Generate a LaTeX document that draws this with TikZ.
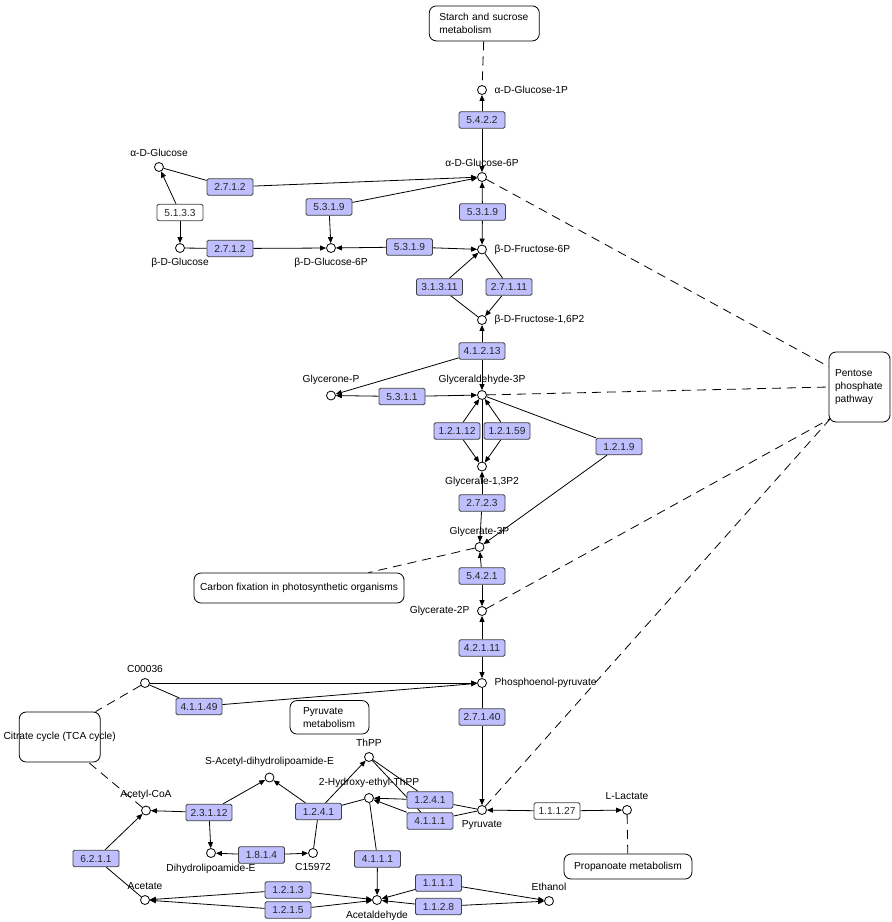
\documentclass[tikz,border=0pt]{standalone}
\usepackage{fontspec}
\setmainfont{Liberation Sans}
\usetikzlibrary{arrows.meta,backgrounds}
\definecolor{enzblue}{RGB}{191,191,255}

\begin{document}
\begin{tikzpicture}[x=1pt, y=-1pt, font=\fontsize{10.2}{13.3}\selectfont, label distance=1.5pt,
  cpd/.style={circle, draw, fill=white, line width=0.8pt, minimum size=9pt, inner sep=0pt},
  enz/.style={draw=black!75, fill=enzblue, rounded corners=1.5pt, line width=0.8pt, minimum width=46pt, minimum height=16.5pt, inner sep=0pt, text=black!85},
  enzw/.style={enz, fill=white},
  map/.style={draw, rounded corners=7pt, line width=0.8pt, align=left, inner sep=0pt},
  rxn/.style={line width=0.8pt},
  arr/.style={line width=0.8pt, -{Triangle[length=6pt,width=5pt]}},
  link/.style={line width=0.8pt, dash pattern=on 9pt off 6pt},
  every label/.style={inner sep=4pt}]
  \useasboundingbox (0,0) rectangle (892,922);

  \node[map, text width=90pt, inner xsep=10pt, minimum height=35pt] (starch) at (484.3,23.4) {Starch and sucrose\\metabolism};
  \node[map, text width=49pt, inner xsep=6pt, minimum height=70pt] (pent) at (859.5,387) {Pentose\\phosphate\\pathway};
  \node[map, minimum width=210pt, minimum height=30pt] (carbon) at (299,588) {Carbon fixation in photosynthetic organisms};
  \node[map, minimum width=81pt, minimum height=50pt] (tca) at (59.7,737) {\makebox[0pt]{Citrate cycle (TCA cycle)}};
  \node[map, text width=53pt, inner xsep=13pt, minimum height=33.5pt] (pyrmet) at (329.5,717.3) {Pyruvate\\metabolism};
  \node[map, minimum width=128pt, minimum height=25pt] (prop) at (628,866.5) {Propanoate metabolism};

  \node[cpd, label={[label distance=3.5pt]right:α-D-Glucose-1P}] (aG1P) at (482,90) {};
  \node[cpd, label={above:α-D-Glucose-6P}] (aG6P) at (482,177) {};
  \node[cpd, label={above:α-D-Glucose}] (aGlc) at (159,167) {};
  \node[cpd, label={below:β-D-Glucose}] (bGlc) at (180,248) {};
  \node[cpd, label={below:β-D-Glucose-6P}] (bG6P) at (331,248) {};
  \node[cpd, label={[label distance=3.5pt]right:β-D-Fructose-6P}] (bF6P) at (482,249.5) {};
  \node[cpd, label={[label distance=3.5pt]right:{β-D-Fructose-1,6P2}}] (bF16P) at (482,320) {};
  \node[cpd, label={above:Glycerone-P}] (DHAP) at (331,395.5) {};
  \node[cpd, label={above:Glyceraldehyde-3P}] (GAP) at (482,395) {};
  \node[cpd, label={below:{Glycerate-1,3P2}}] (G13P) at (482,466.5) {};
  \node[cpd, label={above:Glycerate-3P}] (G3P) at (479.5,547) {};
  \node[cpd, label={[label distance=3.5pt]left:Glycerate-2P}] (G2P) at (482,611) {};
  \node[cpd, label={[label distance=3.5pt]right:Phosphoenol-pyruvate}] (PEP) at (482,683) {};
  \node[cpd, label={above:C00036}] (C00036) at (145,683) {};
  \node[cpd, label={below:Pyruvate}] (Pyr) at (482,810) {};
  \node[cpd, label={above:L-Lactate}] (Lac) at (627,810) {};
  \node[cpd, label={above:Acetyl-CoA}] (AcCoA) at (146,810.5) {};
  \node[cpd, label={above:S-Acetyl-dihydrolipoamide-E}] (SAc) at (269.5,777.5) {};
  \node[cpd, label={above:ThPP}] (ThPP) at (369,757) {};
  \node[cpd, label={above:2-Hydroxy-ethyl-ThPP}] (HETPP) at (369,798) {};
  \node[cpd, label={below:Dihydrolipoamide-E}] (DHL) at (211,853) {};
  \node[cpd, label={below:C15972}] (C15972) at (313,853) {};
  \node[cpd, label={above:Acetate}] (Acetate) at (145,900) {};
  \node[cpd, label={below:Acetaldehyde}] (Acald) at (377,900) {};
  \node[cpd, label={above:Ethanol}] (EtOH) at (549,901) {};

  \node[enz] (e5422) at (482,120) {5.4.2.2};
  \node[enz] (e2712a) at (230,187) {2.7.1.2};
  \node[enzw] (e5133) at (180,212.5) {5.1.3.3};
  \node[enz] (e5319a) at (329,207) {5.3.1.9};
  \node[enz] (e2712b) at (230,248.5) {2.7.1.2};
  \node[enz] (e5319b) at (409.5,247) {5.3.1.9};
  \node[enz] (e5319c) at (482.5,212) {5.3.1.9};
  \node[enz] (e31311) at (439.5,287) {3.1.3.11};
  \node[enz] (e27111) at (509,287) {2.7.1.11};
  \node[enz] (e41213) at (482,351) {4.1.2.13};
  \node[enz] (e5311) at (402,396.5) {5.3.1.1};
  \node[enz] (e12112) at (457,431) {1.2.1.12};
  \node[enz] (e12159) at (507,431) {1.2.1.59};
  \node[enz] (e1219) at (619,446.5) {1.2.1.9};
  \node[enz] (e2723) at (482,503) {2.7.2.3};
  \node[enz] (e5421) at (482,576) {5.4.2.1};
  \node[enz] (e42111) at (482,648) {4.2.1.11};
  \node[enz] (e41149) at (199,706.5) {4.1.1.49};
  \node[enz] (e27140) at (482,717) {2.7.1.40};
  \node[enz] (e23112) at (209,812.5) {2.3.1.12};
  \node[enz] (e1241a) at (318.5,811.5) {1.2.4.1};
  \node[enz] (e1241b) at (430,800) {1.2.4.1};
  \node[enz] (e4111a) at (430,821) {4.1.1.1};
  \node[enzw] (e11127) at (557,811) {1.1.1.27};
  \node[enz] (e6211) at (96,858.5) {6.2.1.1};
  \node[enz] (e1814) at (261.5,855) {1.8.1.4};
  \node[enz] (e4111b) at (377.5,859) {4.1.1.1};
  \node[enz] (e1213) at (288,890) {1.2.1.3};
  \node[enz] (e1215) at (288,910) {1.2.1.5};
  \node[enz] (e1111) at (438.5,883) {1.1.1.1};
  \node[enz] (e1128) at (438.5,906.5) {1.1.2.8};

  \begin{scope}[on background layer]
    \draw[link] (starch) -- (aG1P);
    \draw[link] (aG6P) -- ([yshift=-15pt]pent.north west);
    \draw[link] (GAP) -- (pent.west);
    \draw[link] (G2P) -- ([shift={(2,-4)}]pent.south west);
    \draw[link] (Pyr) -- ([shift={(2,-4)}]pent.south west);
    \draw[link] (G3P) -- ([xshift=-36pt]carbon.north east);
    \draw[link] (C00036) -- ([xshift=-5pt]tca.north east);
    \draw[link] (AcCoA) -- ([xshift=-12pt]tca.south east);
    \draw[link] (Lac) -- (prop);

    \draw[arr] (e5422) -- (aG1P);
    \draw[arr] (e5422) -- (aG6P);
    \draw[rxn] (aGlc) -- (e2712a);
    \draw[arr] (e2712a) -- (aG6P);
    \draw[arr] (e5133) -- (aGlc);
    \draw[arr] (e5133) -- (bGlc);
    \draw[rxn] (bGlc) -- (e2712b);
    \draw[arr] (e2712b) -- (bG6P);
    \draw[arr] (e5319a) -- (aG6P);
    \draw[arr] (e5319a) -- (bG6P);
    \draw[arr] (e5319b) -- (bG6P);
    \draw[arr] (e5319b) -- (bF6P);
    \draw[arr] (e5319c) -- (aG6P);
    \draw[arr] (e5319c) -- (bF6P);
    \draw[rxn] (bF16P) -- (e31311);
    \draw[arr] (e31311) -- (bF6P);
    \draw[rxn] (bF6P) -- (e27111);
    \draw[arr] (e27111) -- (bF16P);
    \draw[arr] (e41213) -- (bF16P);
    \draw[arr] (e41213) -- (GAP);
    \draw[arr] (e41213) -- (DHAP);
    \draw[arr] (e5311) -- (DHAP);
    \draw[arr] (e5311) -- (GAP);
    \draw[arr] (e12112) -- (GAP);
    \draw[arr] (e12112) -- (G13P);
    \draw[arr] (e12159) -- (GAP);
    \draw[arr] (e12159) -- (G13P);
    \draw[rxn] (GAP) -- (G13P);
    \draw[rxn] (GAP) -- (e1219);
    \draw[arr] (e1219) -- (G3P);
    \draw[arr] (e2723) -- (G13P);
    \draw[arr] (e2723) -- (G3P);
    \draw[arr] (e5421) -- (G3P);
    \draw[arr] (e5421) -- (G2P);
    \draw[arr] (e42111) -- (G2P);
    \draw[arr] (e42111) -- (PEP);
    \draw[arr] (C00036) -- (PEP);
    \draw[rxn] (C00036) -- (e41149);
    \draw[arr] (e41149) -- (PEP);
    \draw[rxn] (PEP) -- (e27140);
    \draw[arr] (e27140) -- (Pyr);
    \draw[arr] (e11127) -- (Pyr);
    \draw[arr] (e11127) -- (Lac);
    \draw[rxn] (Pyr) -- (e1241b);
    \draw[rxn] (ThPP) -- ([xshift=-12pt]e1241b.north);
    \draw[arr] (e1241b) -- (HETPP);
    \draw[rxn] (Pyr) -- (e4111a);
    \draw[rxn] (ThPP) -- ([xshift=-9pt]e4111a.north);
    \draw[arr] (e4111a) -- (HETPP);
    \draw[rxn] (HETPP) -- (e1241a);
    \draw[arr] ([xshift=7pt]e1241a.north) -- (ThPP);
    \draw[arr] ([xshift=-13pt]e1241a.north) -- (SAc);
    \draw[rxn] (e1241a) -- (C15972);
    \draw[arr] ([xshift=14pt]e23112.north) -- (SAc);
    \draw[arr] (e23112) -- (AcCoA);
    \draw[arr] (e23112) -- (DHL);
    \draw[arr] (e1814) -- (DHL);
    \draw[arr] (e1814) -- (C15972);
    \draw[rxn] (Acetate) -- (e6211);
    \draw[arr] (e6211) -- (AcCoA);
    \draw[arr] (e1213) -- (Acetate);
    \draw[arr] (e1213) -- (Acald);
    \draw[arr] (e1215) -- (Acetate);
    \draw[arr] (e1215) -- (Acald);
    \draw[rxn] (HETPP) -- (e4111b);
    \draw[arr] (e4111b) -- (Acald);
    \draw[arr] (e1111) -- (Acald);
    \draw[arr] (e1111) -- (EtOH);
    \draw[arr] (e1128) -- (Acald);
    \draw[arr] (e1128) -- (EtOH);
  \end{scope}
\end{tikzpicture}
\end{document}
